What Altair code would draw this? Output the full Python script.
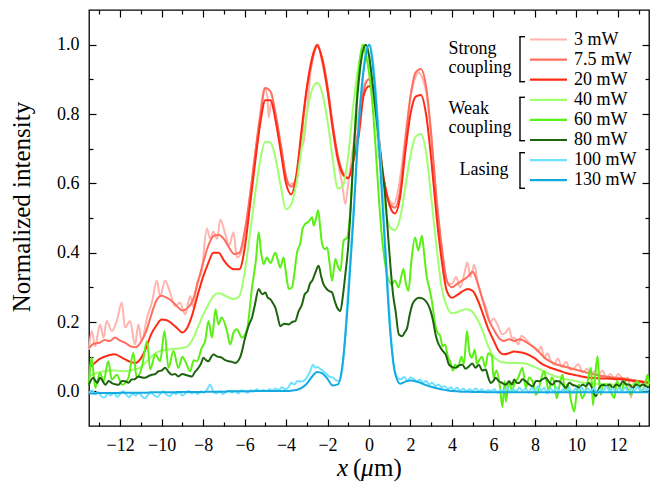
import altair as alt
import pandas as pd

FONT = "Liberation Serif"

# ---------------- data ----------------
series_labels = ["3 mW", "7.5 mW", "20 mW", "40 mW", "60 mW", "80 mW", "100 mW", "130 mW"]
series_colors = ["#ffb4ae", "#ff6e5f", "#ff2a14", "#a0ff6e", "#5af014", "#1e640f", "#6ee1ff", "#14aae1"]

grid = [round(-13.5 + 0.25 * i, 2) for i in range(109)]

y_20 = [0.068, 0.08, 0.093, 0.1, 0.105, 0.107, 0.1, 0.092, 0.085, 0.082, 0.095, 0.125,
        0.165, 0.19, 0.207, 0.205, 0.195, 0.182, 0.17, 0.185, 0.225, 0.28, 0.33, 0.37,
        0.4, 0.4, 0.378, 0.36, 0.352, 0.352, 0.41, 0.53, 0.655, 0.77, 0.84, 0.84,
        0.78, 0.69, 0.6, 0.568, 0.625, 0.755, 0.875, 0.96, 1.0, 0.955, 0.87, 0.76,
        0.67, 0.625, 0.615, 0.665, 0.735, 0.855, 0.88, 0.855, 0.68, 0.6, 0.535, 0.513,
        0.56, 0.69, 0.8, 0.85, 0.855, 0.8, 0.67, 0.51, 0.38, 0.29, 0.27, 0.278,
        0.288, 0.295, 0.29, 0.262, 0.222, 0.18, 0.148, 0.117, 0.107, 0.11, 0.115, 0.113,
        0.11, 0.104, 0.095, 0.083, 0.074, 0.068, 0.063, 0.058, 0.053, 0.049, 0.046, 0.043,
        0.04, 0.039, 0.038, 0.037, 0.037, 0.036, 0.035, 0.034, 0.032, 0.03, 0.029, 0.026,
        0.024]

y_7_5 = [0.125, 0.138, 0.14, 0.148, 0.145, 0.155, 0.146, 0.14, 0.13, 0.127, 0.142, 0.172,
         0.22, 0.262, 0.276, 0.27, 0.26, 0.245, 0.233, 0.24, 0.262, 0.315, 0.37, 0.42,
         0.448, 0.452, 0.44, 0.415, 0.396, 0.4, 0.46, 0.56, 0.68, 0.79, 0.875, 0.865,
         0.8, 0.71, 0.62, 0.59, 0.62, 0.74, 0.87, 0.95, 0.995, 0.96, 0.88, 0.77,
         0.68, 0.63, 0.615, 0.67, 0.76, 0.87, 0.9, 0.87, 0.72, 0.6, 0.54, 0.53,
         0.58, 0.72, 0.85, 0.92, 0.93, 0.88, 0.74, 0.56, 0.42, 0.32, 0.3, 0.31,
         0.32, 0.33, 0.345, 0.31, 0.26, 0.21, 0.18, 0.155, 0.145, 0.15, 0.145, 0.15,
         0.145, 0.135, 0.125, 0.11, 0.095, 0.086, 0.078, 0.074, 0.07, 0.066, 0.062, 0.058,
         0.054, 0.05, 0.047, 0.044, 0.042, 0.04, 0.039, 0.038, 0.035, 0.032, 0.03, 0.028,
         0.027]

y_40 = [0.043, 0.05, 0.056, 0.058, 0.06, 0.06, 0.059, 0.058, 0.06, 0.064, 0.07, 0.085,
        0.1, 0.112, 0.118, 0.12, 0.122, 0.123, 0.125, 0.13, 0.15, 0.185, 0.22, 0.25,
        0.275, 0.283, 0.278, 0.27, 0.266, 0.275, 0.34, 0.45, 0.565, 0.665, 0.72, 0.718,
        0.67, 0.59, 0.525, 0.54, 0.6, 0.7, 0.8, 0.87, 0.89, 0.86, 0.78, 0.67,
        0.585, 0.595, 0.68, 0.83, 0.94, 1.0, 0.95, 0.83, 0.68, 0.54, 0.475, 0.465,
        0.5, 0.59, 0.68, 0.735, 0.742, 0.69, 0.56, 0.42, 0.3, 0.245, 0.225, 0.228,
        0.235, 0.237, 0.228, 0.205, 0.17, 0.13, 0.1, 0.088, 0.083, 0.082, 0.082, 0.082,
        0.08, 0.076, 0.07, 0.063, 0.056, 0.049, 0.043, 0.039, 0.035, 0.032, 0.029, 0.026,
        0.024, 0.023, 0.022, 0.021, 0.021, 0.02, 0.02, 0.02, 0.019, 0.019, 0.019, 0.019,
        0.019]

y_130 = [-0.006, -0.006, -0.005, -0.005, -0.005, -0.005, -0.004, -0.004, -0.004, -0.004, -0.004, -0.004,
         -0.003, -0.003, -0.003, -0.003, -0.003, -0.002, -0.002, -0.002, -0.002, -0.002, -0.002, -0.001,
         -0.001, -0.001, -0.001, 0.0, 0.0, 0.0, 0.0, 0.0, 0.001, 0.001, 0.001, 0.001,
         0.001, 0.001, 0.001, 0.002, 0.004, 0.01, 0.022, 0.042, 0.056, 0.052, 0.036, 0.017,
         0.02, 0.09, 0.27, 0.5, 0.76, 0.93, 1.0, 0.9, 0.69, 0.44, 0.19, 0.055,
         0.022, 0.028, 0.031, 0.029, 0.024, 0.018, 0.013, 0.009, 0.006, 0.003, 0.001, 0.0,
         -0.001, -0.001, -0.002, -0.002, -0.002, -0.003, -0.003, -0.003, -0.003, -0.003, -0.003, -0.003,
         -0.003, -0.003, -0.003, -0.003, -0.003, -0.003, -0.003, -0.003, -0.003, -0.003, -0.003, -0.003,
         -0.003, -0.003, -0.003, -0.003, -0.003, -0.003, -0.003, -0.003, -0.003, -0.003, -0.003, -0.003,
         -0.003]

x_3 = [-13.5, -13.37, -13.2, -12.97, -12.8, -12.65, -12.4, -12.16, -11.92, -11.76, -11.52, -11.28,
       -11.12, -10.96, -10.7, -10.47, -10.23, -10.07, -9.83, -9.59, -9.35, -9.11, -8.86, -8.62,
       -8.46, -8.3, -8.06, -7.82, -7.66, -7.5, -7.32, -7.17, -6.93, -6.75, -6.53, -6.37,
       -6.13, -5.95, -5.75, -5.5, -5.25, -5.05, -4.9, -4.84, -4.7, -4.5, -4.25, -4.0,
       -3.85, -3.7, -3.5, -3.3, -3.15, -3.0, -2.8, -2.6, -2.45, -2.3, -2.1, -1.9,
       -1.7, -1.5, -1.3, -1.14, -1.0, -0.8, -0.6, -0.4, -0.2, 0.0, 0.2, 0.4,
       0.6, 0.8, 1.0, 1.2, 1.4, 1.6, 1.8, 2.0, 2.2, 2.4, 2.6, 2.8,
       3.0, 3.2, 3.4, 3.6, 3.8, 4.0, 4.2, 4.4, 4.6, 4.74, 4.9, 5.07,
       5.25, 5.45, 5.65, 5.85, 6.0, 6.19, 6.43, 6.6, 6.75, 6.9, 7.0, 7.2,
       7.35, 7.48, 7.7, 7.96, 8.15, 8.3, 8.44, 8.6, 8.75, 8.92, 9.1, 9.3,
       9.5, 9.7, 9.9, 10.1, 10.3, 10.5, 10.7, 10.86, 11.05, 11.25, 11.45, 11.65,
       11.85, 12.0, 12.15, 12.35, 12.5, 12.63, 12.8, 12.95, 13.1, 13.3, 13.5]
y_3 = [0.12, 0.174, 0.13, 0.193, 0.155, 0.203, 0.174, 0.203, 0.256, 0.184, 0.203, 0.135,
       0.193, 0.145, 0.213, 0.256, 0.319, 0.275, 0.319, 0.285, 0.246, 0.256, 0.222, 0.275,
       0.241, 0.309, 0.348, 0.47, 0.44, 0.46, 0.44, 0.495, 0.454, 0.42, 0.459, 0.386,
       0.406, 0.46, 0.56, 0.68, 0.8, 0.875, 0.85, 0.79, 0.84, 0.79, 0.71, 0.62,
       0.595, 0.6, 0.6, 0.7, 0.72, 0.8, 0.93, 0.99, 1.0, 0.96, 0.9, 0.82,
       0.73, 0.66, 0.6, 0.54, 0.6, 0.69, 0.77, 0.84, 0.89, 0.9, 0.87, 0.76,
       0.66, 0.58, 0.55, 0.54, 0.58, 0.66, 0.76, 0.85, 0.9, 0.92, 0.9, 0.85,
       0.74, 0.59, 0.46, 0.37, 0.31, 0.31, 0.33, 0.3, 0.34, 0.372, 0.33, 0.365,
       0.31, 0.27, 0.24, 0.2, 0.21, 0.193, 0.164, 0.17, 0.183, 0.15, 0.155, 0.135,
       0.16, 0.155, 0.14, 0.126, 0.115, 0.13, 0.097, 0.11, 0.09, 0.077, 0.095, 0.07,
       0.085, 0.062, 0.068, 0.078, 0.055, 0.065, 0.05, 0.058, 0.045, 0.06, 0.04, 0.05,
       0.035, 0.05, 0.043, 0.03, 0.04, -0.019, 0.035, 0.02, 0.029, 0.015, 0.03]

x_60 = [-13.5, -13.37, -13.2, -12.97, -12.8, -12.57, -12.4, -12.16, -11.9, -11.6, -11.36, -11.2,
        -10.96, -10.7, -10.55, -10.3, -10.07, -9.86, -9.67, -9.43, -9.19, -9.0, -8.86, -8.62,
        -8.45, -8.3, -8.06, -7.9, -7.74, -7.57, -7.4, -7.26, -7.1, -6.85, -6.69, -6.53,
        -6.37, -6.13, -5.88, -5.64, -5.45, -5.32, -5.2, -5.08, -4.92, -4.75, -4.52, -4.4,
        -4.28, -4.12, -3.98, -3.87, -3.71, -3.6, -3.47, -3.3, -3.2, -3.07, -2.9, -2.74,
        -2.67, -2.55, -2.45, -2.35, -2.26, -2.12, -2.02, -1.9, -1.78, -1.62, -1.5, -1.38,
        -1.22, -1.05, -0.89, -0.75, -0.6, -0.45, -0.3, -0.15, 0.0, 0.15, 0.3, 0.45,
        0.6, 0.75, 0.9, 1.1, 1.25, 1.42, 1.55, 1.66, 1.78, 1.9, 2.05, 2.22,
        2.38, 2.55, 2.67, 2.79, 2.9, 3.03, 3.19, 3.3, 3.43, 3.55, 3.67, 3.8,
        3.91, 4.05, 4.15, 4.3, 4.45, 4.58, 4.72, 4.85, 4.96, 5.1, 5.2, 5.28,
        5.45, 5.6, 5.75, 5.93, 6.0, 6.15, 6.3, 6.43, 6.55, 6.6, 6.75, 6.9,
        7.0, 7.2, 7.4, 7.56, 7.72, 7.88, 8.05, 8.2, 8.32, 8.44, 8.55, 8.68,
        8.8, 8.92, 9.05, 9.16, 9.33, 9.45, 9.57, 9.75, 9.9, 10.02, 10.14, 10.26,
        10.38, 10.55, 10.7, 10.8, 10.9, 11.02, 11.1, 11.18, 11.3, 11.5, 11.65, 11.83,
        11.95, 12.07, 12.2, 12.31, 12.45, 12.63, 12.8, 12.95, 13.1, 13.2, 13.35, 13.43,
        13.5]
y_60 = [0.02, 0.097, 0.01, 0.053, 0.029, 0.087, 0.034, 0.048, 0.019, 0.039, 0.111, 0.039,
        0.068, 0.145, 0.063, 0.106, 0.087, 0.174, 0.068, 0.116, 0.068, 0.1, 0.087, 0.058,
        0.09, 0.087, 0.126, 0.145, 0.203, 0.155, 0.237, 0.193, 0.213, 0.174, 0.135, 0.17,
        0.179, 0.155, 0.179, 0.3, 0.38, 0.459, 0.4, 0.367, 0.386, 0.37, 0.4, 0.38,
        0.357, 0.386, 0.33, 0.295, 0.3, 0.34, 0.4, 0.43, 0.47, 0.483, 0.49, 0.502,
        0.478, 0.5, 0.522, 0.47, 0.425, 0.41, 0.415, 0.37, 0.319, 0.382, 0.36, 0.348,
        0.435, 0.444, 0.531, 0.69, 0.84, 0.95, 1.0, 0.97, 0.92, 0.84, 0.72, 0.58,
        0.46, 0.38, 0.33, 0.309, 0.32, 0.3, 0.33, 0.353, 0.31, 0.29, 0.38, 0.444,
        0.406, 0.449, 0.39, 0.328, 0.3, 0.261, 0.193, 0.17, 0.16, 0.13, 0.135, 0.1,
        0.087, 0.06, 0.077, 0.07, 0.1, 0.08, 0.174, 0.11, 0.097, 0.12, 0.08, 0.087,
        0.1, 0.07, 0.11, 0.101, 0.04, 0.06, 0.02, -0.045, 0.03, -0.03, 0.029, 0.0,
        0.02, 0.04, 0.068, 0.01, 0.04, 0.029, -0.01, 0.01, 0.04, 0.058, 0.03, 0.0,
        0.04, 0.029, -0.02, 0.01, 0.048, 0.0, 0.02, -0.03, -0.058, 0.0, 0.02, -0.02,
        -0.01, 0.03, 0.068, -0.04, 0.04, 0.101, 0.03, -0.01, 0.02, 0.02, 0.0, -0.019,
        0.03, 0.015, 0.0, 0.029, 0.01, -0.01, 0.02, 0.029, 0.0, 0.005, 0.03, 0.048,
        0.02]

x_80 = [-13.5, -13.3, -13.1, -12.97, -12.7, -12.55, -12.4, -12.2, -12.08, -11.9, -11.76, -11.6,
        -11.44, -11.3, -11.12, -10.95, -10.8, -10.6, -10.47, -10.3, -10.15, -10.0, -9.83, -9.65,
        -9.5, -9.35, -9.2, -9.0, -8.86, -8.7, -8.54, -8.4, -8.22, -8.1, -7.98, -7.86,
        -7.74, -7.6, -7.5, -7.3, -7.1, -6.93, -6.77, -6.6, -6.45, -6.2, -5.97, -5.8,
        -5.64, -5.5, -5.32, -5.15, -5.0, -4.88, -4.76, -4.64, -4.52, -4.4, -4.28, -4.1,
        -3.87, -3.7, -3.55, -3.4, -3.23, -3.1, -2.95, -2.85, -2.74, -2.6, -2.43, -2.3,
        -2.2, -2.1, -1.95, -1.78, -1.65, -1.54, -1.38, -1.25, -1.14, -1.0, -0.89, -0.75,
        -0.6, -0.45, -0.3, -0.15, 0.0, 0.15, 0.3, 0.45, 0.6, 0.8, 0.92, 1.04,
        1.16, 1.28, 1.44, 1.6, 1.72, 1.84, 1.96, 2.09, 2.25, 2.41, 2.57, 2.73,
        2.85, 2.97, 3.1, 3.21, 3.33, 3.45, 3.58, 3.7, 3.86, 4.02, 4.18, 4.34,
        4.5, 4.66, 4.82, 4.98, 5.14, 5.3, 5.46, 5.63, 5.75, 5.87, 6.0, 6.1,
        6.25, 6.43, 6.6, 6.75, 6.9, 7.0, 7.12, 7.24, 7.4, 7.56, 7.72, 7.9,
        8.05, 8.2, 8.37, 8.53, 8.7, 8.85, 9.0, 9.17, 9.33, 9.5, 9.65, 9.8,
        10.0, 10.15, 10.3, 10.45, 10.6, 10.75, 10.94, 11.1, 11.27, 11.45, 11.6, 11.76,
        11.92, 12.08, 12.24, 12.4, 12.56, 12.72, 12.88, 13.04, 13.2, 13.35, 13.5]
y_80 = [0.019, 0.039, 0.024, 0.039, 0.019, 0.03, 0.024, 0.02, 0.019, 0.03, 0.029, 0.025,
        0.034, 0.035, 0.043, 0.04, 0.039, 0.045, 0.048, 0.05, 0.058, 0.06, 0.068, 0.055,
        0.048, 0.05, 0.043, 0.05, 0.048, 0.045, 0.043, 0.055, 0.068, 0.08, 0.097, 0.09,
        0.087, 0.1, 0.106, 0.1, 0.097, 0.09, 0.087, 0.085, 0.082, 0.1, 0.155, 0.19,
        0.213, 0.25, 0.295, 0.28, 0.285, 0.27, 0.266, 0.255, 0.242, 0.215, 0.188, 0.195,
        0.193, 0.2, 0.203, 0.23, 0.251, 0.28, 0.29, 0.31, 0.319, 0.34, 0.362, 0.33,
        0.31, 0.3, 0.29, 0.285, 0.26, 0.242, 0.232, 0.28, 0.338, 0.42, 0.522, 0.68,
        0.82, 0.92, 0.98, 1.0, 0.97, 0.9, 0.82, 0.74, 0.66, 0.55, 0.45, 0.357,
        0.28, 0.232, 0.164, 0.159, 0.17, 0.183, 0.22, 0.251, 0.265, 0.27, 0.268, 0.261,
        0.25, 0.232, 0.2, 0.164, 0.14, 0.126, 0.115, 0.106, 0.077, 0.07, 0.068, 0.075,
        0.077, 0.065, 0.072, 0.08, 0.068, 0.077, 0.06, 0.063, 0.04, 0.024, 0.03, 0.039,
        0.03, 0.024, 0.019, 0.029, 0.02, 0.034, 0.025, 0.024, 0.035, 0.029, 0.02, 0.014,
        0.03, 0.029, 0.035, 0.039, 0.025, 0.019, 0.03, 0.029, 0.02, 0.01, 0.025, 0.019,
        0.015, 0.01, 0.02, 0.015, 0.024, 0.01, -0.014, 0.01, 0.019, 0.015, 0.02, 0.01,
        0.02, 0.015, 0.029, 0.02, 0.019, 0.01, 0.02, 0.014, 0.02, 0.015, 0.01]

x_100 = [-13.5, -13.35, -13.2, -13.05, -12.9, -12.75, -12.6, -12.45, -12.3, -12.15, -12.0, -11.85,
         -11.7, -11.55, -11.4, -11.25, -11.1, -10.95, -10.8, -10.65, -10.5, -10.35, -10.2, -10.05,
         -9.9, -9.75, -9.6, -9.45, -9.3, -9.15, -9.0, -8.85, -8.7, -8.55, -8.4, -8.25,
         -8.1, -7.95, -7.8, -7.66, -7.5, -7.35, -7.2, -7.05, -6.9, -6.75, -6.6, -6.45,
         -6.3, -6.15, -6.0, -5.85, -5.7, -5.55, -5.4, -5.25, -5.1, -4.95, -4.8, -4.65,
         -4.5, -4.35, -4.2, -4.05, -3.9, -3.75, -3.6, -3.45, -3.3, -3.15, -3.0, -2.85,
         -2.7, -2.6, -2.5, -2.35, -2.2, -2.05, -1.9, -1.75, -1.6, -1.45, -1.3, -1.15,
         -1.0, -0.85, -0.7, -0.55, -0.4, -0.25, -0.1, 0.05, 0.2, 0.35, 0.5, 0.65,
         0.8, 0.95, 1.1, 1.25, 1.4, 1.55, 1.7, 1.85, 2.0, 2.15, 2.3, 2.45,
         2.6, 2.75, 2.9, 3.05, 3.2, 3.35, 3.5, 3.65, 3.8, 3.95, 4.1, 4.25,
         4.4, 4.55, 4.7, 4.85, 5.0, 5.15, 5.3, 5.45, 5.6, 5.75, 5.9, 6.05,
         6.2, 6.35, 6.5, 6.65, 6.8, 6.95, 7.1, 7.25, 7.4, 7.55, 7.7, 7.85,
         8.0, 8.15, 8.3, 8.45, 8.6, 8.75, 8.9, 9.05, 9.2, 9.35, 9.5, 9.65,
         9.8, 9.95, 10.1, 10.25, 10.4, 10.55, 10.7, 10.85, 11.0, 11.15, 11.3, 11.45,
         11.6, 11.75, 11.9, 12.05, 12.2, 12.35, 12.5, 12.65, 12.8, 12.95, 13.1, 13.25,
         13.4, 13.5]
y_100 = [-0.005, 0.003, -0.008, -0.002, -0.015, -0.018, -0.006, -0.012, -0.004, -0.016, -0.008, 0.0,
         -0.01, -0.017, -0.006, -0.012, -0.004, -0.014, -0.02, -0.01, -0.005, -0.012, -0.016, -0.006,
         0.0, -0.01, -0.014, -0.004, -0.008, -0.002, -0.012, -0.006, 0.002, -0.006, -0.003, -0.008,
         0.0, -0.004, 0.006, 0.02, -0.002, -0.006, 0.0, -0.008, -0.002, 0.002, -0.004, 0.0,
         -0.006, 0.003, 0.0, -0.004, 0.004, 0.0, 0.006, 0.0, 0.004, 0.0, 0.006, 0.003,
         0.008, 0.004, 0.012, 0.006, 0.01, 0.025, 0.02, 0.03, 0.028, 0.03, 0.04, 0.055,
         0.077, 0.068, 0.07, 0.065, 0.058, 0.05, 0.042, 0.04, 0.032, 0.03, 0.06, 0.16,
         0.3, 0.43, 0.57, 0.72, 0.85, 0.94, 0.99, 1.0, 0.95, 0.85, 0.72, 0.57,
         0.41, 0.26, 0.13, 0.055, 0.038, 0.035, 0.042, 0.03, 0.04, 0.036, 0.028, 0.034,
         0.025, 0.03, 0.02, 0.025, 0.015, 0.02, 0.012, 0.015, 0.006, 0.012, 0.004, 0.01,
         0.002, 0.008, 0.0, 0.006, 0.002, 0.008, 0.0, 0.006, -0.002, 0.004, 0.0, 0.006,
         -0.004, 0.004, 0.0, 0.012, -0.002, 0.006, 0.0, 0.01, 0.002, 0.008, -0.004, 0.01,
         0.0, 0.015, 0.002, 0.01, -0.006, 0.008, 0.0, 0.012, -0.004, 0.006, 0.0, 0.01,
         -0.006, 0.008, 0.002, 0.012, -0.002, 0.008, 0.0, 0.01, -0.006, 0.006, 0.0, 0.014,
         0.002, 0.008, -0.004, 0.01, 0.0, 0.012, -0.002, 0.008, 0.002, 0.014, 0.0, 0.01,
         0.004, 0.008]

series_x = [x_3, grid, grid, grid, x_60, x_80, x_100, grid]
series_y = [y_3, y_7_5, y_20, y_40, y_60, y_80, y_100, y_130]

# axis tick values
x_major = [-12, -10, -8, -6, -4, -2, 0, 2, 4, 6, 8, 10, 12]
x_minor = [-13, -11, -9, -7, -5, -3, -1, 1, 3, 5, 7, 9, 11, 13]
y_major = [0.0, 0.2, 0.4, 0.6, 0.8, 1.0]
y_minor = [0.1, 0.3, 0.5, 0.7, 0.9]

groups = [("Strong", "coupling", 0, 2), ("Weak", "coupling", 3, 5), ("Lasing", None, 6, 7)]

# ---------------- layout ----------------
W, H = 560, 416
xs = alt.Scale(domain=[-13.5, 13.5], nice=False, zero=False)
ys = alt.Scale(domain=[-0.1, 1.1], nice=False, zero=False)

frames = []
for k, (lab, xv, yv) in enumerate(zip(series_labels, series_x, series_y)):
    frames.append(pd.DataFrame({"x": xv, "y": yv, "series": lab, "k": k}))
df_all = pd.concat(frames, ignore_index=True)

df_ticks = pd.DataFrame({"x": x_major[:len(y_major)], "y": y_major})


def make_axis(orient, values, size, labels, fmt):
    kw = dict(orient=orient, values=values, tickSize=alt.ExprRef(expr=str(-size)),
              labels=labels, domain=False, grid=False, title=None,
              tickColor="black", tickWidth=1.2, ticks=True)
    if labels:
        kw.update(labelFont=FONT, labelFontSize=18, labelColor="black",
                  labelPadding=size + 10, labelFlush=False, format=fmt)
    return alt.Axis(**kw)


one = alt.Data(values=[{"a": 1}])


def txt(text, x, y, size=18, align="left", style="normal", angle=0):
    mk = dict(text=text, font=FONT, fontSize=size, align=align, baseline="middle",
              color="black", fontStyle=style)
    if angle:
        mk["angle"] = angle
    return alt.Chart(one).mark_text(**mk).encode(x=alt.value(x), y=alt.value(y))


layers = [
    alt.Chart(df_all).mark_line(strokeWidth=2, interpolate="monotone", strokeJoin="round")
    .encode(
        x=alt.X("x:Q", scale=xs, axis=None),
        y=alt.Y("y:Q", scale=ys, axis=None),
        color=alt.Color("series:N", scale=alt.Scale(domain=series_labels, range=series_colors), legend=None),
        detail="k:O",
    )
]

axis_specs = [
    (make_axis("bottom", x_major, 7, True, "d"), make_axis("left", y_major, 7, True, ".1f")),
    (make_axis("bottom", x_minor, 4, False, "d"), make_axis("left", y_minor, 4, False, ".1f")),
    (make_axis("top", x_major, 7, False, "d"), make_axis("right", y_major, 7, False, ".1f")),
    (make_axis("top", x_minor, 4, False, "d"), make_axis("right", y_minor, 4, False, ".1f")),
]
for ax_x, ax_y in axis_specs:
    layers.append(
        alt.Chart(df_ticks).mark_point(opacity=0, size=1)
        .encode(x=alt.X("x:Q", scale=xs, axis=ax_x), y=alt.Y("y:Q", scale=ys, axis=ax_y))
    )

layers.append(txt("Normalized intensity", -67, 197, size=25, align="center", angle=270))
for t, xpos, style in [("x", 248, "italic"), ("(", 264, "normal"), ("\u03bc", 272, "italic"), ("m)", 285, "normal")]:
    layers.append(txt(t, xpos, 458, size=25, style=style))

row_y = [29.5 + 20.1 * i for i in range(len(series_labels))]
for i, (lab, col) in enumerate(zip(series_labels, series_colors)):
    layers.append(alt.Chart(one).mark_rule(color=col, strokeWidth=2.2)
                  .encode(x=alt.value(441), x2=alt.value(478), y=alt.value(row_y[i])))
    layers.append(txt(lab, 485, row_y[i]))

bracket_ext = [(26.7, 71.7), (87.3, 130.7), (142.7, 178.3)]
for (g1, g2, r0, r1), (b0, b1) in zip(groups, bracket_ext):
    layers.append(alt.Chart(one).mark_rule(color="black", strokeWidth=1.4)
                  .encode(x=alt.value(431), y=alt.value(b0), y2=alt.value(b1)))
    for yb in (b0, b1):
        layers.append(alt.Chart(one).mark_rule(color="black", strokeWidth=1.4)
                      .encode(x=alt.value(430.3), x2=alt.value(436), y=alt.value(yb)))
    if g2 is not None:
        layers.append(txt(g1, 359.5, row_y[r0] + 9.5))
        layers.append(txt(g2, 359.5, row_y[r0] + 28.5))
    else:
        layers.append(txt(g1, 395, (row_y[r0] + row_y[r1]) / 2, align="center"))

chart = (
    alt.layer(*layers)
    .resolve_axis(x="independent", y="independent")
    .properties(width=W, height=H, autosize=alt.AutoSizeParams(type="none"),
                padding={"left": 89, "top": 10, "right": 11, "bottom": 59},
                background="white")
    .configure_view(stroke="black", strokeWidth=1.3)
)

chart.save("out.html", embed_options={"renderer": "svg", "actions": False})
